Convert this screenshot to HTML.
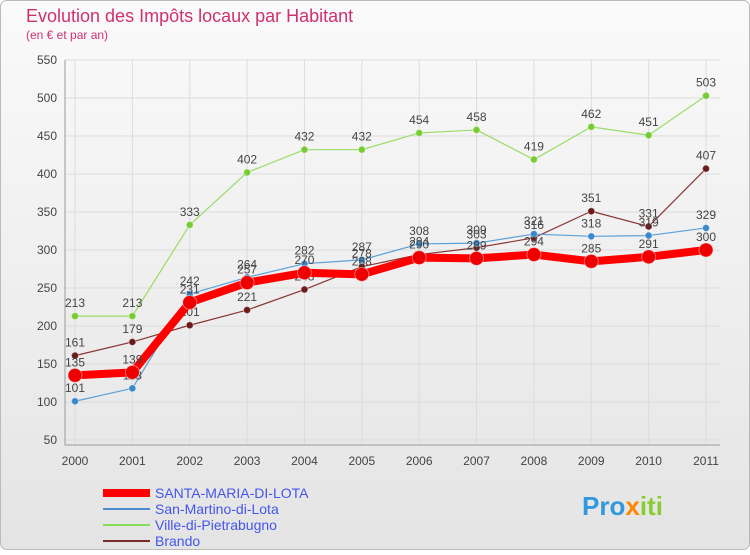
<!DOCTYPE html>
<html><head><meta charset="utf-8"><style>
body{margin:0;background:#fff;font-family:"Liberation Sans",sans-serif}
svg text{font-family:"Liberation Sans",sans-serif}
</style></head><body>
<svg width="750" height="550" xmlns="http://www.w3.org/2000/svg">
<defs><linearGradient id="bg" x1="0" y1="0" x2="0" y2="1"><stop offset="0" stop-color="#fafafa"/><stop offset="1" stop-color="#e4e4e4"/></linearGradient></defs>
<rect x="0.5" y="0.5" width="749" height="549" rx="6" fill="url(#bg)" stroke="#bbb"/>
<text x="26" y="22" font-size="18" fill="#d0306e">Evolution des Impôts locaux par Habitant</text>
<text x="26" y="39" font-size="12" fill="#d0306e">(en € et par an)</text>
<g id="grid"></g><g id="axes"></g><g id="series"></g>
<g>
<line x1="103" y1="493" x2="150" y2="493" stroke="#f00" stroke-width="8"/>
<text x="155" y="498" font-size="14" fill="#4455ee">SANTA-MARIA-DI-LOTA</text>
<line x1="103" y1="509" x2="150" y2="509" stroke="#4a90d0" stroke-width="2"/>
<text x="155" y="514" font-size="14" fill="#4455ee">San-Martino-di-Lota</text>
<line x1="103" y1="525" x2="150" y2="525" stroke="#88dd55" stroke-width="2"/>
<text x="155" y="530" font-size="14" fill="#4455ee">Ville-di-Pietrabugno</text>
<line x1="103" y1="541" x2="150" y2="541" stroke="#7a2a2a" stroke-width="2"/>
<text x="155" y="546" font-size="14" fill="#4455ee">Brando</text>
</g>
<text x="582" y="515" font-size="26" font-weight="bold" fill="#3399dd">Pro<tspan fill="#ff8800">x</tspan><tspan fill="#88cc33">iti</tspan></text>
</svg>
<script>
const years=["2000","2001","2002","2003","2004","2005","2006","2007","2008","2009","2010","2011"];
const yTicks=[50,100,150,200,250,300,350,400,450,500,550];
const santa=[135,139,231,257,270,268,290,289,294,285,291,300];
const sanMartino=[101,118,242,264,282,287,308,309,321,318,319,329];
const ville=[213,213,333,402,432,432,454,458,419,462,451,503];
const brando=[161,179,201,221,248,278,294,303,316,351,331,407];
const NS="http://www.w3.org/2000/svg";
const x0=75,x1=706,yb=440,yt=60,vmin=50,vmax=550;
function xs(i){return x0+(x1-x0)*i/(years.length-1);}
function ys(v){return yb-(v-vmin)*(yb-yt)/(vmax-vmin);}
function mk(tag,attrs,parent){const e=document.createElementNS(NS,tag);for(const k in attrs)e.setAttribute(k,attrs[k]);parent.appendChild(e);return e;}
const grid=document.getElementById('grid'),axes=document.getElementById('axes'),ser=document.getElementById('series');
yTicks.forEach(v=>{
 const l=mk('line',{x1:65,x2:720,y1:ys(v),y2:ys(v),stroke:'#dcdcdc'},grid);
 
 
 const t=mk('text',{x:57,y:ys(v)+4,'text-anchor':'end','font-size':12,fill:'#444'},axes);
 t.textContent=v;
 
 
});
years.forEach((y,i)=>{
 const l=mk('line',{x1:xs(i),x2:xs(i),y1:60,y2:445,stroke:'#dcdcdc'},grid);
 
 
 const t=mk('text',{x:xs(i),y:465,'text-anchor':'middle','font-size':12,fill:'#444'},axes);
 t.textContent=y;
 
 
});
const ax=mk('path',{d:'M65 60V445H720',stroke:'#999',fill:'none'},axes);


function draw(vals,name,color,w,r,dot){
 const g=mk('g',{},ser);
 
 
 const p=mk('polyline',{points:vals.map((v,i)=>xs(i)+','+ys(v)).join(' '),fill:'none',stroke:color,'stroke-width':w,'stroke-linejoin':'round'},g);
 
 
 vals.forEach((v,i)=>{
  const c=mk('circle',{cx:xs(i),cy:ys(v),r:r,fill:dot,stroke:'#fff','stroke-opacity':0.4},g);
  
  
  const t=mk('text',{x:xs(i),y:ys(v)-9,'text-anchor':'middle','font-size':12,fill:'#444'},g);
  t.textContent=v;
  
  
 });
}
draw(ville,'ville','#99dd66',1.2,3.5,'#77cc33');
draw(brando,'brando','#8a3535',1.2,3.5,'#6a1a1a');
draw(sanMartino,'san-martino','#5aa0d8',1.2,3.5,'#3a88cc');
draw(santa,'santa','#ff0000',8,7,'#ee0000');
</script>
</body></html>
